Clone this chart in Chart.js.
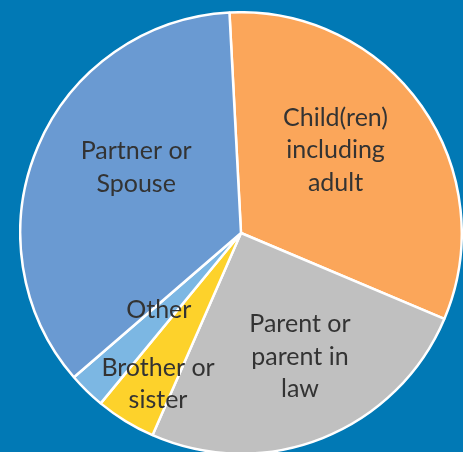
<!DOCTYPE html>
<html lang="en">
<head>
    <meta charset="UTF-8">
    <title>Who they care for</title>
    <style>
        html, body {
            margin: 0;
            width: 463px;
            height: 452px;
            overflow: hidden;
            background-color: #0179b5;
        }
        .wrap {
            position: absolute;
            left: 19px;
            top: 11px;
            width: 444px;
            height: 444px;
        }
    </style>
</head>
<body>
    <div class="wrap">
        <canvas id="chart"></canvas>
    </div>

    <script src="https://cdn.jsdelivr.net/npm/chart.js"></script>
    <script>
        // Share of carers by relationship (%)
        const categories = ['Child(ren) including adult', 'Parent or parent in law', 'Brother or sister', 'Other', 'Partner or Spouse'];
        const shares = [32.2, 25.2, 4.4, 2.7, 35.5];
        // label text as it is wrapped in the picture
        const labelLines = [
            ['Child(ren)', 'including', 'adult'],
            ['Parent or', 'parent in', 'law'],
            ['Brother or', 'sister'],
            ['Other'],
            ['Partner or', 'Spouse']
        ];

        const colors = ['#fba65a', '#c0c0c0', '#fdd22b', '#7cb7e3', '#6a9ad2'];
        // where each label sits: clock angle (deg) and fraction of radius
        const labelSpots = [[48.7, 0.57], [154.5, 0.62], [208.8, 0.78], [226.9, 0.51], [302, 0.56]];

        const sliceLabels = {
            id: 'sliceLabels',
            afterDatasetsDraw(chart) {
                const arc = chart.getDatasetMeta(0).data[0];
                const ctx = chart.ctx;
                const lineH = 32.5;
                ctx.save();
                ctx.font = '25px Lato, "Open Sans", sans-serif';
                ctx.fillStyle = '#333333';
                ctx.textAlign = 'center';
                ctx.textBaseline = 'middle';
                labelLines.forEach((lines, i) => {
                    const a = labelSpots[i][0] * Math.PI / 180;
                    const r = labelSpots[i][1] * arc.outerRadius;
                    const cx = arc.x + r * Math.sin(a);
                    const cy = arc.y - r * Math.cos(a);
                    const y0 = cy - (lines.length - 1) * lineH / 2;
                    lines.forEach((t, j) => ctx.fillText(t, cx, y0 + j * lineH));
                });
                ctx.restore();
            }
        };

        new Chart(document.getElementById('chart'), {
            type: 'pie',
            data: {
                labels: categories,
                datasets: [{
                    data: shares,
                    backgroundColor: colors,
                    borderColor: '#ffffff',
                    borderWidth: 2.5
                }]
            },
            options: {
                responsive: true,
                maintainAspectRatio: false,
                animation: false,
                rotation: -3,
                layout: { padding: 0 },
                plugins: {
                    legend: { display: false },
                    tooltip: { enabled: false }
                }
            },
            plugins: [sliceLabels]
        });
    </script>
</body>
</html>
